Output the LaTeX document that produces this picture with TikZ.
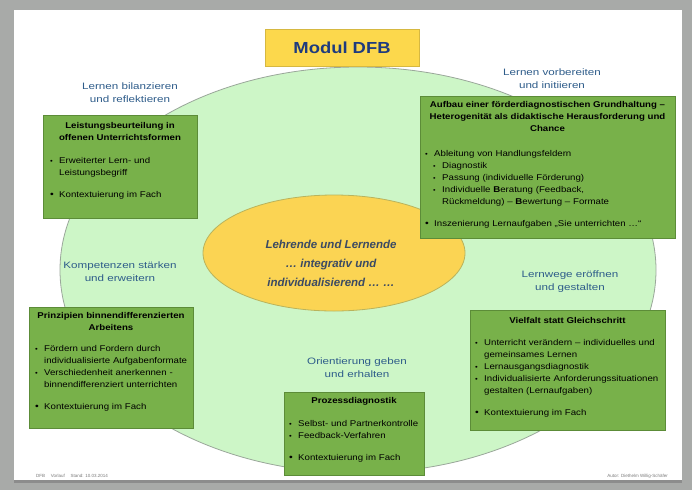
\documentclass[tikz,border=0pt]{standalone}
\usepackage{fontspec}
\setmainfont{Liberation Sans}
\newfontfamily\boxfont{Liberation Sans}[FakeStretch=1.15]
\newfontfamily\lblfont{Liberation Sans}[FakeStretch=1.25]
\usetikzlibrary{shapes.geometric}
\definecolor{outergray}{HTML}{A8AAA8}
\definecolor{lightgreen}{HTML}{CDF6C7}
\definecolor{ellborder}{HTML}{9AA79A}
\definecolor{boxgreen}{HTML}{78B14A}
\definecolor{boxborder}{HTML}{5C8C38}
\definecolor{yellowfill}{HTML}{FBD453}
\definecolor{yellowborder}{HTML}{B9B35C}
\definecolor{titlefill}{HTML}{FCD84C}
\definecolor{titleblue}{HTML}{1F3B7E}
\definecolor{labelblue}{HTML}{2E5C8A}
\definecolor{centertext}{HTML}{3B4A63}
\definecolor{footgray}{HTML}{7A7A7A}
\newcommand\itm[1]{\par\hangindent=9pt\hangafter=1\noindent\makebox[9pt][l]{\scalebox{0.8}{\textbullet}}#1}
\newcommand\subitm[1]{\par\hangindent=17pt\hangafter=1\noindent\hspace*{8pt}\makebox[9pt][l]{\scalebox{0.75}{\textbullet}}#1}
\newcommand\kitm[1]{\par\vspace{9.5pt}\hangindent=9pt\hangafter=1\noindent\makebox[9pt][l]{\scalebox{1.1}{\textbullet}}#1}
\begin{document}
\begin{tikzpicture}[x=1pt,y=-1pt,
  gbox/.style={draw=boxborder, line width=0.8pt, fill=boxgreen, rectangle, inner sep=0pt},
  gtitle/.style={align=center, font=\boxfont\fontsize{8.4}{12}\selectfont\bfseries, inner sep=0pt, anchor=north},
  glist/.style={align=left, font=\boxfont\fontsize{8.4}{12}\selectfont, inner sep=0pt, anchor=north west},
  lbl/.style={align=center, text=labelblue, font=\lblfont\fontsize{9.3}{13}\selectfont, inner sep=0pt},
  foot/.style={text=footgray, font=\fontsize{4.5}{5}\selectfont, inner sep=0pt}]
\useasboundingbox (0,0) rectangle (692,490);
% background
\fill[outergray] (0,0) rectangle (692,490);
\fill[white] (14,10) rectangle (682,480);
\fill[black!45] (14,480) rectangle (682,483);
% big ellipse
\node[ellipse, draw=ellborder, line width=0.8pt, fill=lightgreen, minimum width=596, minimum height=406] (big) at (358,270) {};
% title
\node[draw=titlefill!85!black, fill=titlefill, minimum width=154, minimum height=37, inner sep=0pt,
      font=\boxfont\fontsize{16}{18}\selectfont\bfseries, text=titleblue] (title) at (342,48) {Modul DFB};
% central ellipse
\node[ellipse, draw=yellowborder, line width=0.8pt, fill=yellowfill, minimum width=262, minimum height=116] (core) at (334,253) {};
\node[align=center, text=centertext, font=\fontsize{11.5}{19}\selectfont\bfseries\itshape, inner sep=0pt] (coretext) at (331,263)
  {Lehrende und Lernende\\ \dots\ integrativ und\\ individualisierend \dots\ \dots};
% labels
\node[lbl] (lab1) at (130,92.5) {Lernen bilanzieren\\und reflektieren};
\node[lbl] (lab2) at (552,78.5) {Lernen vorbereiten\\und initiieren};
\node[lbl] (lab3) at (120,271.5) {Kompetenzen stärken\\und erweitern};
\node[lbl] (lab4) at (570,282) {Lernwege eröffnen\\und gestalten};
\node[lbl] (lab5) at (357,368) {Orientierung geben\\und erhalten};
% box 1
\node[gbox, minimum width=154, minimum height=103] (b1) at (120,166.5) {};
\node[gtitle] (t1) at (120,122) {Leistungsbeurteilung in\\offenen Unterrichtsformen};
\node[glist, text width=145pt] (l1) at (50,151.5)
  {\itm{Erweiterter Lern- und\newline Leistungsbegriff}\kitm{Kontextuierung im Fach}};
% box 2
\node[gbox, minimum width=255, minimum height=142] (b2) at (547.5,167) {};
\node[gtitle] (t2) at (547.5,101) {Aufbau einer förderdiagnostischen Grundhaltung –\\Heterogenität als didaktische Herausforderung und\\Chance};
\node[glist, text width=245pt] (l2) at (425,144.5)
  {\itm{Ableitung von Handlungsfeldern}%
   \subitm{Diagnostik}%
   \subitm{Passung (individuelle Förderung)}%
   \subitm{Individuelle \textbf{B}eratung (Feedback,\newline Rückmeldung) – \textbf{B}ewertung – Formate}%
   \kitm{Inszenierung Lernaufgaben „Sie unterrichten \dots“}};
% box 3
\node[gbox, minimum width=164, minimum height=121] (b3) at (111,367.5) {};
\node[gtitle] (t3) at (111,312) {Prinzipien binnendifferenzierten\\Arbeitens};
\node[glist, text width=158pt] (l3) at (35,339.5)
  {\itm{Fördern und Fordern durch\newline individualisierte Aufgabenformate}%
   \itm{Verschiedenheit anerkennen -\newline binnendifferenziert unterrichten}%
   \kitm{Kontextuierung im Fach}};
% box 4
\node[gbox, minimum width=195, minimum height=120] (b4) at (567.5,370) {};
\node[gtitle] (t4) at (567.5,317) {Vielfalt statt Gleichschritt};
\node[glist, text width=190pt] (l4) at (475,333.5)
  {\itm{Unterricht verändern – individuelles und\newline gemeinsames Lernen}%
   \itm{Lernausgangsdiagnostik}%
   \itm{Individualisierte Anforderungssituationen\newline gestalten (Lernaufgaben)}%
   \kitm{Kontextuierung im Fach}};
% box 5
\node[gbox, minimum width=140, minimum height=83] (b5) at (354,433.5) {};
\node[gtitle] (t5) at (354,397) {Prozessdiagnostik};
\node[glist, text width=136pt] (l5) at (289,414.5)
  {\itm{Selbst- und Partnerkontrolle}%
   \itm{Feedback-Verfahren}%
   \kitm{Kontextuierung im Fach}};
% footer
\node[foot, anchor=west] (f1) at (36,476) {DFB \quad Vorlauf \quad Stand: 10.03.2014};
\node[foot, anchor=east] (f2) at (668,476) {Autor: Diethelm Willig-Schäfer};
\end{tikzpicture}
\end{document}
